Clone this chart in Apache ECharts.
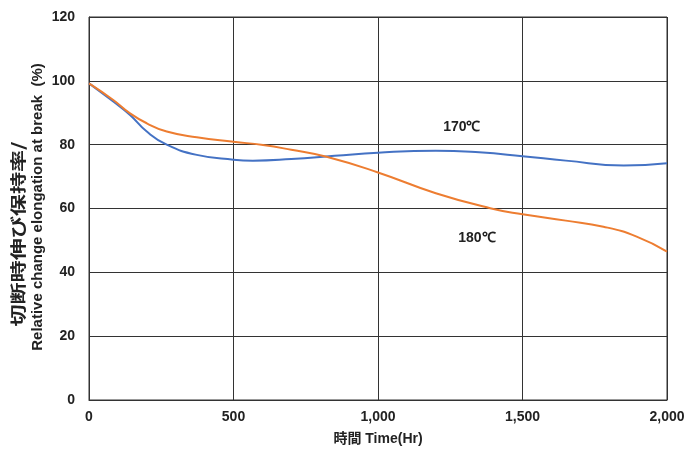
<!DOCTYPE html>
<html><head><meta charset="utf-8">
<script src="https://cdn.jsdelivr.net/npm/echarts@6/dist/echarts.min.js"></script>
<style>html,body{margin:0;padding:0;background:#fff}#c{width:688px;height:450px}</style>
</head><body><div id="c"></div>
<script>
const xTicks = [0, 500, 1000, 1500, 2000];
const yTicks = [0, 20, 40, 60, 80, 100, 120];
const hours170 = [0, 84, 142, 200, 269, 373, 500, 567, 700, 850, 1000, 1200, 1350, 1500, 1650, 1850, 2000];
const values170 = [99.2, 93.5, 89.3, 84.1, 80.0, 76.8, 75.3, 75.0, 75.5, 76.5, 77.5, 78.1, 77.6, 76.4, 75.0, 73.5, 74.2];
const hours180 = [0, 84, 142, 200, 269, 373, 500, 602, 700, 822, 1000, 1200, 1388, 1500, 1650, 1780, 1895, 2000];
const values180 = [99.2, 94.0, 89.8, 86.7, 84.1, 82.3, 80.9, 79.9, 78.4, 76.2, 71.3, 64.8, 60.1, 58.2, 56.2, 54.3, 51.2, 46.5];
const label170 = {name: '170℃', at: [1290, 85.5]};
const label180 = {name: '180℃', at: [1342, 50.8]};
const yTitleJa = '切断時伸び保持率/';
const yTitleEn = 'Relative change elongation at break  (%)';

const font = '"Liberation Sans", Arial, sans-serif';
const cjkFont = '"Liberation Sans","Noto Sans CJK JP", sans-serif';
const chart = echarts.init(document.getElementById('c'), null, {renderer: 'canvas'});
const zip = (a, b) => a.map((v, i) => [v, b[i]]);
const txt = {color: '#222', fontFamily: font, fontWeight: 'bold', fontSize: 14};
chart.setOption({
  animation: false,
  grid: {left: 89, right: 21, top: 17, bottom: 50, show: true, borderColor: '#333', borderWidth: 1,
         containLabel: false, outerBoundsMode: 'none'},
  graphic: [
    {type: 'text', x: 18, y: 234, rotation: Math.PI / 2, scaleX: 1.38, scaleY: 1,
     style: {text: yTitleJa, fill: '#222', font: 'bold 16px "Noto Sans CJK JP", sans-serif',
             textAlign: 'center', textVerticalAlign: 'middle'}},
    {type: 'text', x: 38, y: 207, rotation: Math.PI / 2,
     style: {text: yTitleEn, fill: '#222', font: 'bold 15px "Liberation Sans", Arial, sans-serif',
             textAlign: 'center', textVerticalAlign: 'middle'}}
  ],
  xAxis: {
    type: 'value', min: xTicks[0], max: xTicks[xTicks.length - 1], interval: 500,
    name: '時間 Time(Hr)', nameLocation: 'middle', nameGap: 32,
    nameTextStyle: {...txt, fontFamily: cjkFont},
    axisLine: {lineStyle: {color: '#333'}}, axisTick: {show: false},
    axisLabel: {...txt, margin: 10, formatter: v => v.toLocaleString('en-US')},
    splitLine: {show: true, lineStyle: {color: '#333', width: 1}}
  },
  yAxis: {
    type: 'value', min: yTicks[0], max: yTicks[yTicks.length - 1], interval: 20,
    axisLine: {show: true, lineStyle: {color: '#333'}}, axisTick: {show: false},
    axisLabel: {...txt, margin: 14},
    splitLine: {show: true, lineStyle: {color: '#333', width: 1}}
  },
  series: [
    {type: 'line', name: '170℃', data: zip(hours170, values170), smooth: 0.5, showSymbol: false,
     lineStyle: {color: '#4472C4', width: 2}, itemStyle: {color: '#4472C4'},
     markPoint: {symbolSize: 0, data: [{coord: label170.at, value: label170.name}],
       label: {show: true, position: 'inside', formatter: p => p.value, ...txt}}},
    {type: 'line', name: '180℃', data: zip(hours180, values180), smooth: 0.5, showSymbol: false,
     lineStyle: {color: '#ED7D31', width: 2}, itemStyle: {color: '#ED7D31'},
     markPoint: {symbolSize: 0, data: [{coord: label180.at, value: label180.name}],
       label: {show: true, position: 'inside', formatter: p => p.value, ...txt}}}
  ]
});
</script></body></html>
